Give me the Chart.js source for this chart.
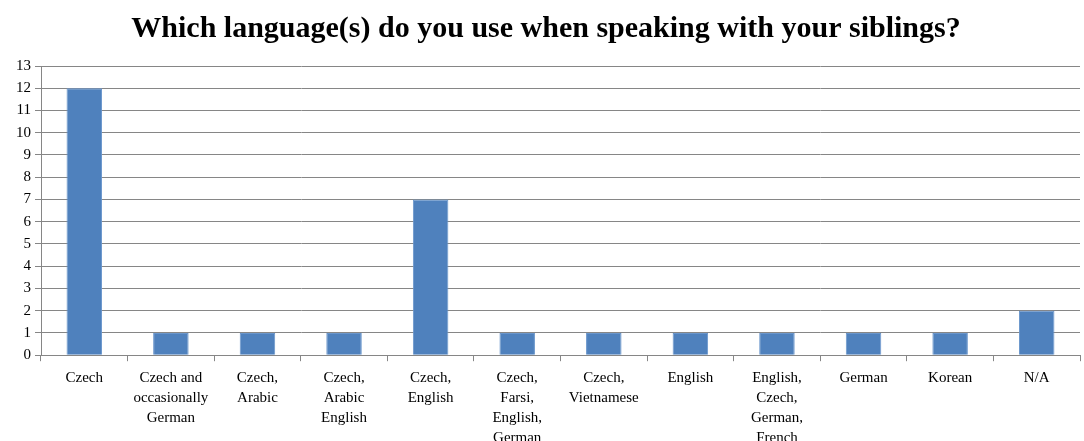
<!DOCTYPE html>
<html>
<head>
<meta charset="utf-8">
<script src="https://cdn.jsdelivr.net/npm/chart.js@4"></script>
<style>
  html, body { margin: 0; padding: 0; background: #fff; overflow: hidden; }
  #wrap { width: 1084px; height: 455px; }
</style>
</head>
<body>
<div id="wrap"><canvas id="siblingsChart"></canvas></div>
<script>
// languages spoken with siblings
const categories = [
    'Czech',
    ['Czech and', 'occasionally', 'German'],
    ['Czech,', 'Arabic'],
    ['Czech,', 'Arabic', 'English'],
    ['Czech,', 'English'],
    ['Czech,', 'Farsi,', 'English,', 'German'],
    ['Czech,', 'Vietnamese'],
    'English',
    ['English,', 'Czech,', 'German,', 'French'],
    'German',
    'Korean',
    'N/A'
];
const counts = [12, 1, 1, 1, 7, 1, 1, 1, 1, 1, 1, 2];
const yTicks = [0, 13, 1]; // min, max, step

document.addEventListener('DOMContentLoaded', function() {
    let ctx = document.getElementById('siblingsChart');

    new Chart(ctx, {
        type: 'bar',
        data: {
            labels: categories,
            datasets: [{
                data: counts,
                backgroundColor: '#4F81BD',
                borderColor: '#6a96cc',
                borderWidth: 1,
                barPercentage: 0.41,
                categoryPercentage: 1
            }]
        },
        options: {
            responsive: true,
            maintainAspectRatio: false,
            animation: false,
            layout: { padding: { left: 12, right: 4, top: 0, bottom: 0 } },
            plugins: {
                legend: { display: false },
                tooltip: { enabled: false },
                title: {
                    display: true,
                    text: 'Which language(s) do you use when speaking with your siblings?',
                    color: '#000',
                    font: { family: '"Liberation Serif", "Times New Roman", serif', size: 30, weight: 'bold' },
                    padding: { top: 11, bottom: 19 }
                }
            },
            scales: {
                x: {
                    grid: { offset: true, drawOnChartArea: false, color: '#868686', tickLength: 6 },
                    border: { color: '#868686' },
                    ticks: {
                        color: '#000',
                        maxRotation: 0,
                        autoSkip: false,
                        padding: 7,
                        font: { family: '"Liberation Serif", "Times New Roman", serif', size: 15, lineHeight: 1.33 }
                    }
                },
                y: {
                    min: yTicks[0],
                    max: yTicks[1],
                    grid: { color: '#868686', tickLength: 6 },
                    border: { color: '#868686' },
                    ticks: {
                        stepSize: yTicks[2],
                        color: '#000',
                        padding: 4,
                        font: { family: '"Liberation Serif", "Times New Roman", serif', size: 15 }
                    }
                }
            }
        }
    });
});
</script>
</body>
</html>
